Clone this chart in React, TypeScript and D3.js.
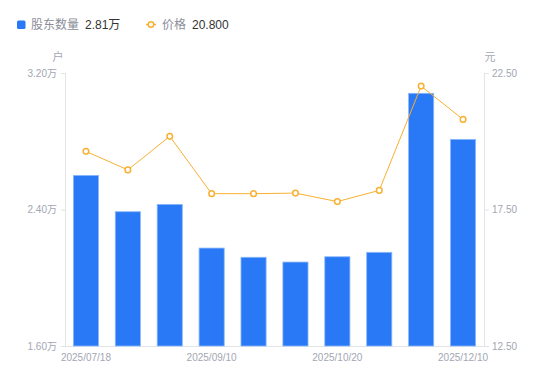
import React from "react";
import * as d3 from "d3";

const dates = [
  "2025/07/18", "2025/07/31", "2025/08/20", "2025/09/10", "2025/09/19",
  "2025/09/30", "2025/10/20", "2025/10/31", "2025/11/20", "2025/12/10",
];
const holders = [2.6, 2.387, 2.43, 2.174, 2.12, 2.092, 2.123, 2.149, 3.081, 2.811];
const prices = [19.63, 18.95, 20.18, 18.08, 18.08, 18.1, 17.79, 18.2, 22.02, 20.8];
const leftTicks = [1.6, 2.4, 3.2];
const rightTicks = [12.5, 17.5, 22.5];
const shownDates = ["2025/07/18", "2025/09/10", "2025/10/20", "2025/12/10"];

const FONT = "'Liberation Sans', 'Noto Sans CJK SC', sans-serif";

export default function App() {
  const W = 550, H = 381;
  const left = 65, right = 484, top = 73, bottom = 346;
  const x = d3.scaleBand<string>().domain(dates).range([left, right]).paddingInner(0.4).paddingOuter(0.2);
  const xc = (d: string) => (x(d) as number) + x.bandwidth() / 2;
  const yL = d3.scaleLinear().domain([1.6, 3.2]).range([bottom, top]);
  const yR = d3.scaleLinear().domain([12.5, 22.5]).range([bottom, top]);
  const line = d3.line<number>().x((_, i) => xc(dates[i])).y((v) => yR(v));
  const axisColor = "#e3e4e8";
  const labelColor = "#a3a6b3";
  const orange = "#f8b031";
  const blue = "#2979f6";

  return (
    <svg width={W} height={H} style={{ position: "absolute", left: 0, top: 0, fontFamily: FONT }}>
      {/* legend */}
      <rect x={17} y={20.5} width={8.5} height={8.5} rx={1.5} fill={blue} />
      <text x={31} y={29} fontSize={12} fill="#8b8e99">股东数量</text>
      <text x={85} y={29} fontSize={12} fill="#333">2.81万</text>
      <line x1={146} x2={156} y1={24.5} y2={24.5} stroke={orange} strokeWidth={1.5} />
      <circle cx={151} cy={24.5} r={2.8} fill="#fff" stroke={orange} strokeWidth={1.5} />
      <text x={162} y={29} fontSize={12} fill="#8b8e99">价格</text>
      <text x={192} y={29} fontSize={12} fill="#333">20.800</text>

      {/* unit labels */}
      <text x={58} y={61} fontSize={11} fill={labelColor} textAnchor="middle">户</text>
      <text x={490} y={61} fontSize={11} fill={labelColor} textAnchor="middle">元</text>

      {/* axes */}
      <line x1={left + 0.5} x2={left + 0.5} y1={top} y2={bottom} stroke={axisColor} />
      <line x1={right + 0.5} x2={right + 0.5} y1={top} y2={bottom} stroke={axisColor} />
      <line x1={left} x2={right} y1={bottom + 0.5} y2={bottom + 0.5} stroke={axisColor} />
      {leftTicks.map((t) => (
        <g key={"l" + t}>
          <line x1={left - 4} x2={left} y1={yL(t) + 0.5} y2={yL(t) + 0.5} stroke={axisColor} />
          <text x={left - 8} y={yL(t) + 3.5} fontSize={10} fill={labelColor} textAnchor="end">
            {t.toFixed(2) + "万"}
          </text>
        </g>
      ))}
      {rightTicks.map((t) => (
        <g key={"r" + t}>
          <line x1={right} x2={right + 5} y1={yR(t) + 0.5} y2={yR(t) + 0.5} stroke={axisColor} />
          <text x={right + 8} y={yR(t) + 3.5} fontSize={10} fill={labelColor}>
            {t.toFixed(2)}
          </text>
        </g>
      ))}
      {shownDates.map((d) => (
        <text key={d} x={xc(d)} y={361} fontSize={10} fill={labelColor} textAnchor="middle">{d}</text>
      ))}

      {/* bars */}
      {holders.map((v, i) => (
        <rect key={i} x={x(dates[i])} y={yL(v)} width={x.bandwidth()} height={bottom - yL(v)}
          fill={blue} stroke="#8cb8fb" strokeWidth={0.8} />
      ))}

      {/* line */}
      <path d={line(prices) || ""} fill="none" stroke={orange} strokeWidth={1} />
      {prices.map((v, i) => (
        <circle key={i} cx={xc(dates[i])} cy={yR(v)} r={2.8} fill="#fff" stroke={orange} strokeWidth={1.5} />
      ))}
    </svg>
  );
}
